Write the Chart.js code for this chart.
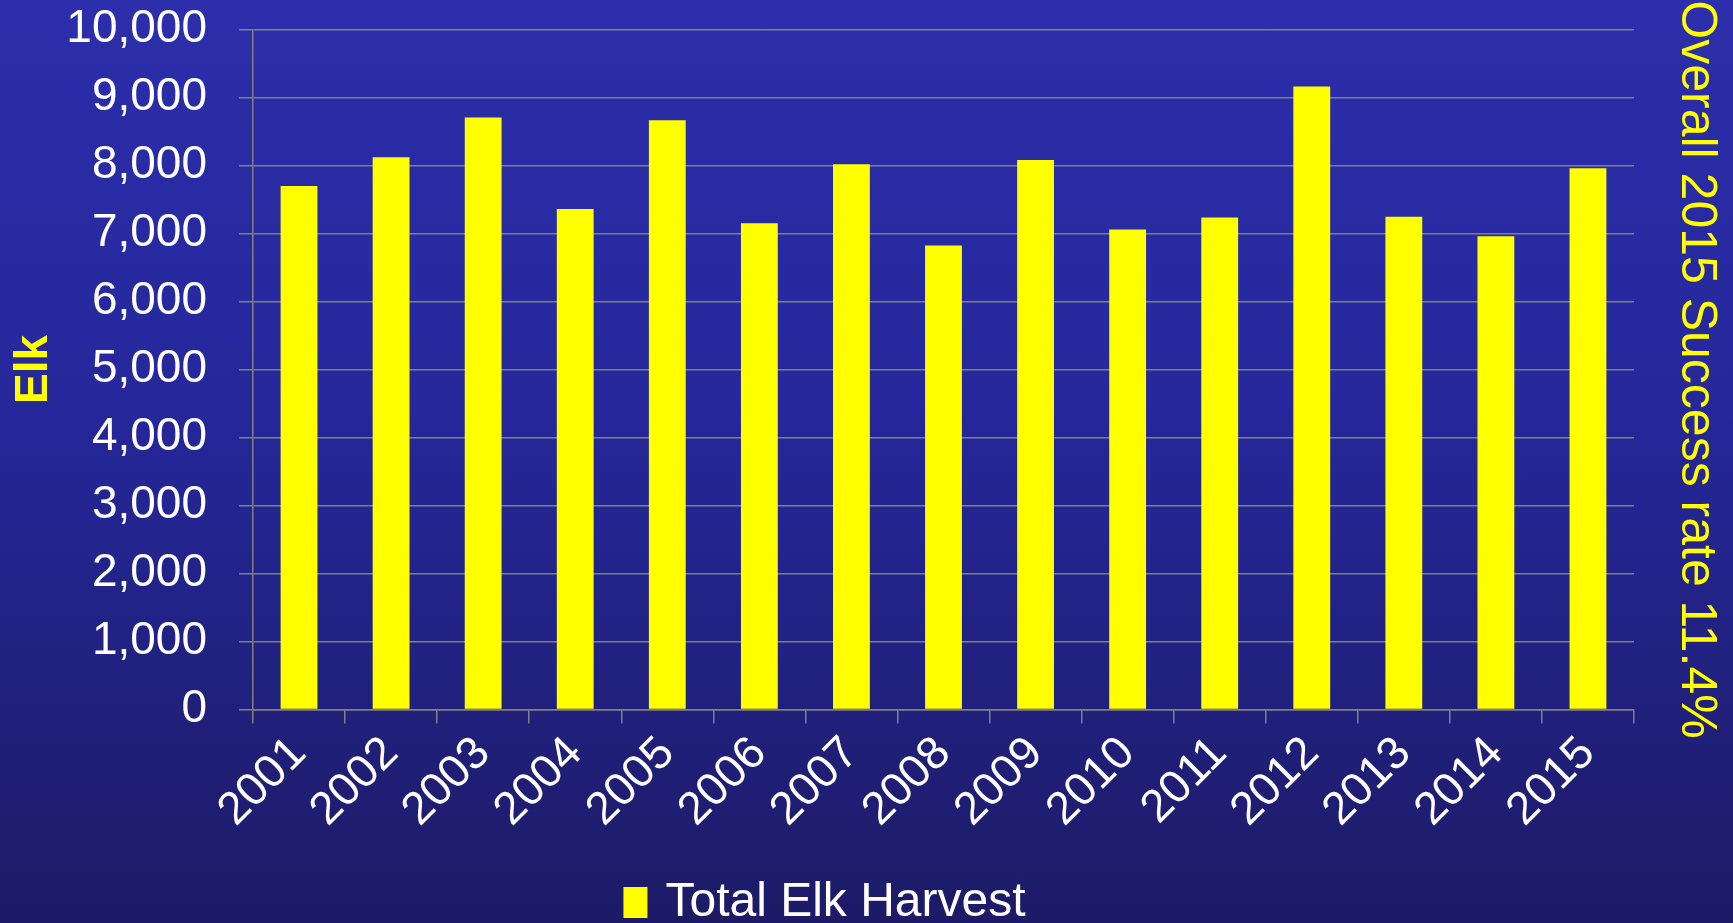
<!DOCTYPE html>
<html>
<head>
<meta charset="utf-8">
<script src="https://cdn.jsdelivr.net/npm/chart.js@4.4.0/dist/chart.umd.min.js"></script>
<style>
  html, body { margin: 0; padding: 0; width: 1733px; height: 923px; overflow: hidden; }
  body { background: linear-gradient(to bottom, #2C2EAB 0%, #25279A 45%, #1D1B66 100%); }
  #wrap { position: relative; width: 1733px; height: 923px; }
  canvas { display: block; }
</style>
</head>
<body>
<div id="wrap"><canvas id="c" width="1733" height="923"></canvas></div>
<script>
// ---- data ----
const categories = ['2001', '2002', '2003', '2004', '2005', '2006', '2007', '2008',
                    '2009', '2010', '2011', '2012', '2013', '2014', '2015'];
const harvest = [7700, 8120, 8705, 7360, 8665, 7150, 8020, 6825,
                 8080, 7060, 7235, 9160, 7245, 6960, 7960];
const yTickLabels = ['0', '1,000', '2,000', '3,000', '4,000', '5,000',
                     '6,000', '7,000', '8,000', '9,000', '10,000'];
const seriesName = 'Total Elk Harvest';
const leftTitle = 'Elk';
const rightTitle = 'Overall 2015 Success rate 11.4%';

const FONT = '"Liberation Sans", Arial, sans-serif';
Chart.defaults.font.family = FONT;

const legendShift = {
  id: 'legendShift',
  afterLayout(chart) {
    const l = chart.legend;
    if (!l) return;
    const dx = -39, dy = 13.5;
    l.left += dx; l.right += dx;
    l.top += dy; l.bottom += dy;
  }
};

new Chart(document.getElementById('c'), {
  type: 'bar',
  data: {
    labels: categories,
    datasets: [{
      label: seriesName,
      data: harvest,
      backgroundColor: '#FFFF00',
      borderWidth: 0,
      barPercentage: 0.4,
      categoryPercentage: 1.0,
      yAxisID: 'y'
    }]
  },
  options: {
    responsive: false,
    animation: false,
    devicePixelRatio: 1,
    layout: { padding: { top: 29.5, left: 0, right: 0, bottom: 0 } },
    plugins: {
      legend: {
        position: 'bottom',
        labels: {
          color: '#FFFFFF',
          font: { size: 48, family: FONT },
          boxWidth: 12,
          boxHeight: 19,
          padding: 10,
          generateLabels: chart => Chart.defaults.plugins.legend.labels.generateLabels(chart)
            .map(item => Object.assign(item, { lineWidth: 12, strokeStyle: '#FFFF00', fillStyle: '#FFFF00' }))
        }
      },
      tooltip: { enabled: false }
    },
    scales: {
      x: {
        grid: { display: true, drawOnChartArea: false, drawTicks: true, tickLength: 14,
                color: '#808080', lineWidth: 1.5, offset: true },
        border: { display: true, color: '#808080', width: 1.5 },
        ticks: { color: '#FFFFFF', font: { size: 46, family: FONT },
                 maxRotation: 45, minRotation: 45, padding: 3, autoSkip: false },
        afterFit: s => { s.height = 145.5; }
      },
      y: {
        position: 'left',
        min: 0, max: 10000,
        ticks: { stepSize: 1000, color: '#FFFFFF', font: { size: 46, family: FONT }, padding: 32,
                 callback: (v, i) => yTickLabels[i] },
        grid: { color: '#808080', lineWidth: 1.5, tickLength: 14 },
        border: { display: true, color: '#808080', width: 1.5 },
        title: { display: true, text: leftTitle, color: '#FFFF00',
                 font: { size: 46, weight: 'bold', family: FONT }, padding: { top: 6.5, bottom: 0 } },
        afterFit: s => { s.width = 253; s.paddingTop = 0; s.paddingBottom = 0; }
      },
      y2: {
        position: 'right',
        display: true,
        min: 0, max: 1,
        grid: { display: false },
        border: { display: false },
        ticks: { display: false },
        title: { display: true, text: rightTitle, color: '#FFFF00',
                 font: { size: 50, family: FONT }, padding: { top: 7, bottom: 0 } },
        afterFit: s => { s.width = 99; s.paddingTop = 0; s.paddingBottom = 0; }
      }
    }
  },
  plugins: [legendShift]
});
</script>
</body>
</html>
